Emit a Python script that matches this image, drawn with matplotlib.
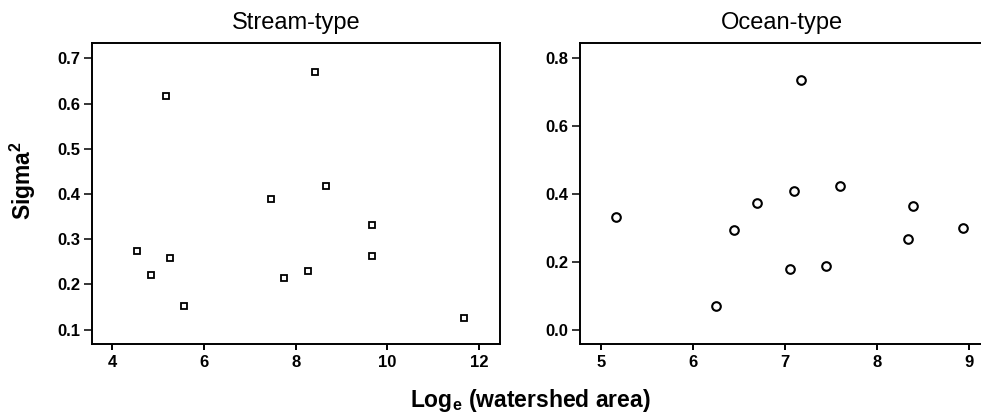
import matplotlib
matplotlib.use("Agg")
import matplotlib.pyplot as plt

plt.rcParams["font.family"] = ["Liberation Sans", "DejaVu Sans"]
plt.rcParams["mathtext.fontset"] = "custom"
plt.rcParams["mathtext.rm"] = "Liberation Sans:bold"
plt.rcParams["mathtext.bf"] = "Liberation Sans:bold"

# stream-type populations
stream_x = [4.53, 4.84, 5.17, 5.26, 5.56, 7.46, 7.74, 8.28, 8.43, 8.66, 9.67, 9.66, 11.68]
stream_y = [0.273, 0.220, 0.617, 0.259, 0.153, 0.389, 0.215, 0.230, 0.669, 0.418, 0.332, 0.262, 0.126]

# ocean-type populations
ocean_x = [5.16, 6.25, 6.45, 6.70, 7.06, 7.10, 7.18, 7.45, 7.60, 8.34, 8.39, 8.94]
ocean_y = [0.333, 0.069, 0.295, 0.374, 0.180, 0.410, 0.735, 0.189, 0.423, 0.268, 0.364, 0.301]

stream_xticks = [4, 6, 8, 10, 12]
stream_yticks = [0.1, 0.2, 0.3, 0.4, 0.5, 0.6, 0.7]
ocean_xticks = [5, 6, 7, 8, 9]
ocean_yticks = [0.0, 0.2, 0.4, 0.6, 0.8]

fig = plt.figure(figsize=(9.81, 4.17), dpi=100)
ax1 = fig.add_axes([0.0938, 0.175, 0.4159, 0.722])
ax2 = fig.add_axes([0.5915, 0.175, 0.411, 0.722])

ax1.plot(stream_x, stream_y, "s", ms=5, mfc="white", mec="black", mew=1.3)
ax2.plot(ocean_x, ocean_y, "o", ms=6.2, mfc="white", mec="black", mew=1.5)

ax1.set_xlim(3.556, 12.46)
ax1.set_ylim(0.068, 0.734)
ax2.set_xlim(4.774, 9.16)
ax2.set_ylim(-0.042, 0.845)

ax1.set_xticks(stream_xticks)
ax1.set_yticks(stream_yticks)
ax1.set_yticklabels([f"{t:.1f}" for t in stream_yticks])
ax2.set_xticks(ocean_xticks)
ax2.set_yticks(ocean_yticks)
ax2.set_yticklabels([f"{t:.1f}" for t in ocean_yticks])

for ax, title in ((ax1, "Stream-type"), (ax2, "Ocean-type")):
    ax.set_title(title, fontsize=17, pad=10)
    for s in ax.spines.values():
        s.set_linewidth(1.4)
    ax.tick_params(axis="y", direction="out", length=5.5, width=1.1, labelsize=12, pad=3)
    ax.tick_params(axis="x", direction="out", length=4, width=1.4, labelsize=12, pad=4)
    for lab in ax.get_xticklabels() + ax.get_yticklabels():
        lab.set_fontweight("bold")

ax1.set_ylabel(r"Sigma$^{\mathbf{2}}$", fontsize=16.5, fontweight="bold")
ax1.yaxis.set_label_coords(-0.132, 0.545)

fig.text(0.541, 0.04, r"Log$_{\mathbf{e}}$ (watershed area)",
         ha="center", va="center", fontsize=16.5, fontweight="bold")

fig.savefig("out.png", dpi=100)
